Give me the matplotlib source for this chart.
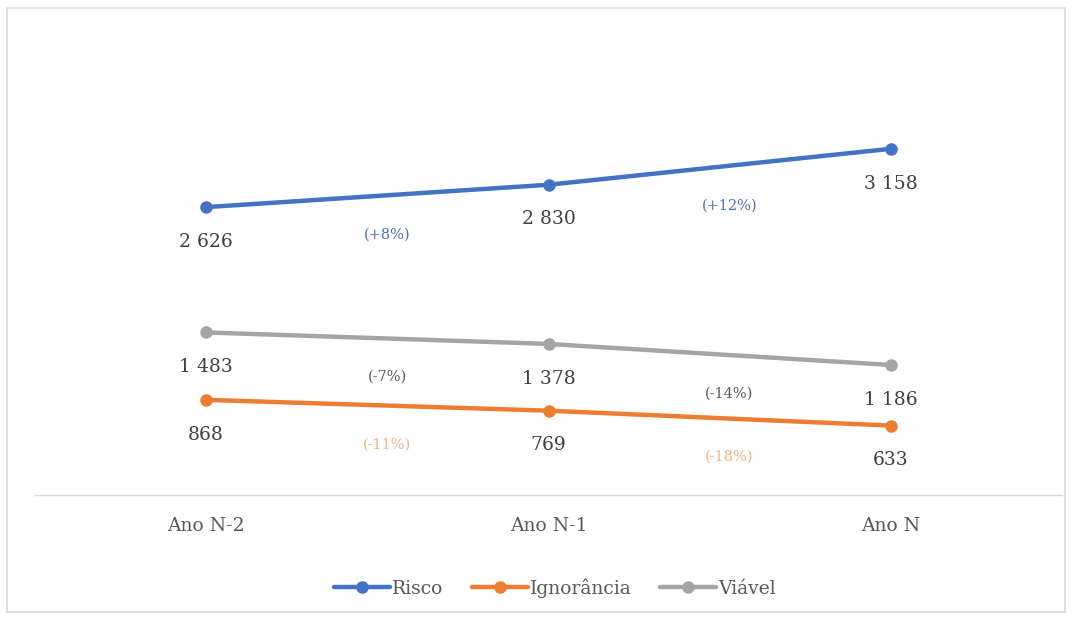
import matplotlib.pyplot as plt
from matplotlib.patches import Rectangle

anos = ['Ano N-2', 'Ano N-1', 'Ano N']
risco = [2626, 2830, 3158]
ignorancia = [868, 769, 633]
viavel = [1483, 1378, 1186]
var_risco = ['(+8%)', '(+12%)']
var_ignorancia = ['(-11%)', '(-18%)']
var_viavel = ['(-7%)', '(-14%)']

plt.rcParams['font.family'] = ['DejaVu Serif']

fig = plt.figure(figsize=(10.77, 6.18), dpi=100)
ax = fig.add_axes([35 / 1077, 1 - 495 / 618, 1027 / 1077, 444 / 618])

x = [i + 0.5 for i in range(len(anos))]

series = [
    ('Risco', risco, var_risco, '#4472C4', '#4A6FB5'),
    ('Ignorância', ignorancia, var_ignorancia, '#ED7D31', '#F4B183'),
    ('Viável', viavel, var_viavel, '#A5A5A5', '#595959'),
]

for nome, vals, var, cor, cor_var in series:
    ax.plot(x, vals, color=cor, lw=3.2, marker='o', ms=8, label=nome,
            solid_capstyle='round')
    for xi, v in zip(x, vals):
        ax.annotate(f'{v:,}'.replace(',', ' '), (xi, v), xytext=(0, -25),
                    textcoords='offset points', ha='center', va='center',
                    fontsize=13.5, color='#404040')
    for i, t in enumerate(var):
        xm = (x[i] + x[i + 1]) / 2
        ym = (vals[i] + vals[i + 1]) / 2
        ax.annotate(t, (xm, ym), xytext=(7, -28), textcoords='offset points',
                    ha='center', va='center', fontsize=10.5, color=cor_var)

ax.set_xlim(0, 3)
ax.set_ylim(0, 4050)
ax.set_xticks(x)
ax.set_xticklabels(anos, fontsize=13.5, color='#595959')
ax.tick_params(axis='x', length=0, pad=16)
ax.set_yticks([])
for s in ['top', 'right', 'left']:
    ax.spines[s].set_visible(False)
ax.spines['bottom'].set_color('#D9D9D9')
ax.spines['bottom'].set_linewidth(1)

leg = fig.legend(loc='center', bbox_to_anchor=(0.515, 1 - 588 / 618), ncol=3,
                 frameon=False, fontsize=13.5, handlelength=3.0,
                 columnspacing=1.5, handletextpad=0.1)
for t in leg.get_texts():
    t.set_color('#595959')

fig.patches.append(Rectangle((7 / 1077, 6 / 618), 1058 / 1077, 604 / 618,
                             transform=fig.transFigure, fill=False,
                             edgecolor='#D9D9D9', lw=1.2))

fig.savefig('out.png', dpi=100)
